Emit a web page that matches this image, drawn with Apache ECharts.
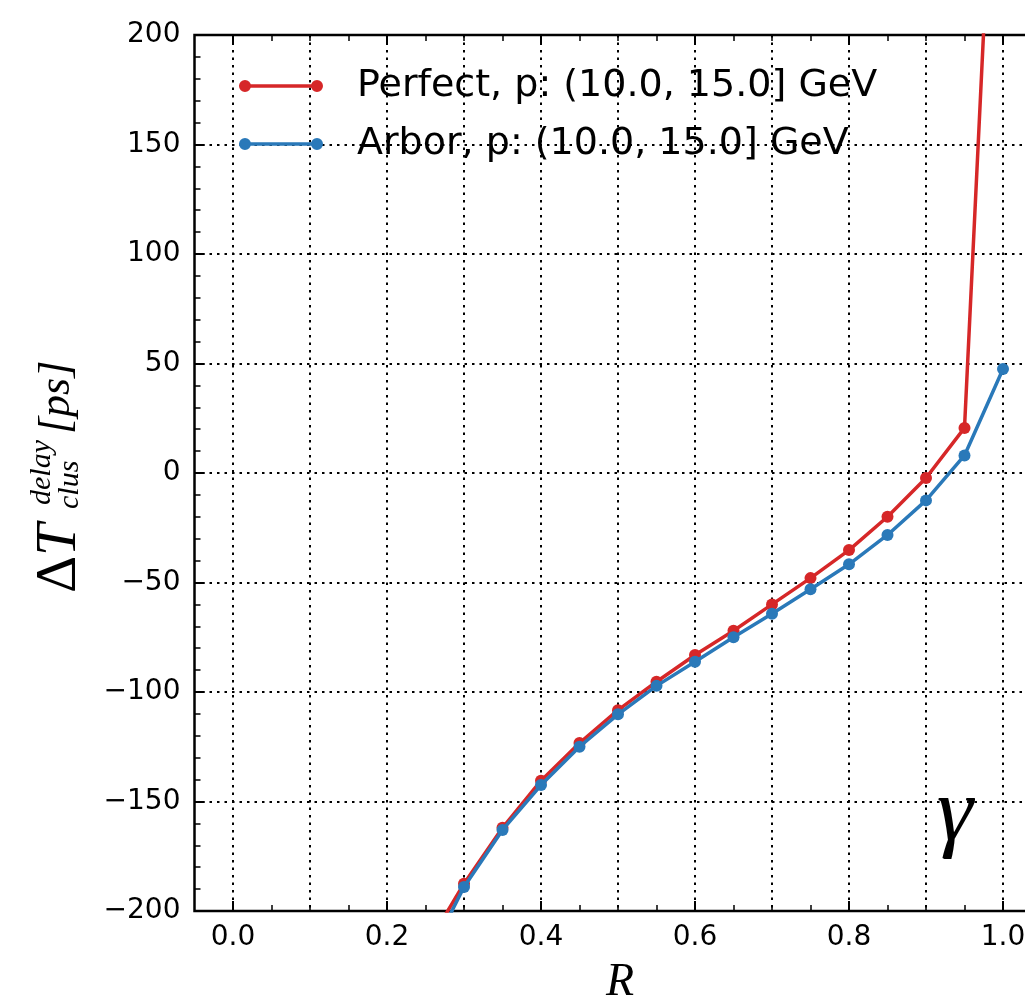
<!DOCTYPE html>
<html>
<head>
<meta charset="utf-8">
<script src="https://cdn.jsdelivr.net/npm/echarts@6/dist/echarts.min.js"></script>
<style>
html,body{margin:0;padding:0;background:#fff;}
#chart{width:1025px;height:1004px;}
</style>
</head>
<body>
<div id="chart"></div>
<script>
// ---- data ----
const R = [0.25, 0.30, 0.35, 0.40, 0.45, 0.50, 0.55, 0.60, 0.65, 0.70, 0.75, 0.80, 0.85, 0.90, 0.95, 1.00];
const perfect = [-217, -187.5, -162, -140.5, -123.3, -108.3, -95.3, -83.1, -72, -60, -48, -35.2, -20, -2.3, 20.6, 385];
const arbor = [-224, -189, -163, -142.5, -125, -110.2, -97.2, -86.2, -75, -64.3, -53.1, -41.7, -28.3, -12.5, 8, 47.5];
const seriesNames = ['Perfect, p: (10.0, 15.0] GeV', 'Arbor, p: (10.0, 15.0] GeV'];
const xMajorTicks = [0.0, 0.2, 0.4, 0.6, 0.8, 1.0];
const xMinorTicks = [0.05, 0.10, 0.15, 0.20, 0.25, 0.30, 0.35, 0.40, 0.45, 0.50, 0.55, 0.60, 0.65, 0.70, 0.75, 0.80, 0.85, 0.90, 0.95, 1.00];
const xGridValues = [0.0, 0.1, 0.2, 0.3, 0.4, 0.5, 0.6, 0.7, 0.8, 0.9, 1.0];

const RED = '#d62728';
const BLUE = '#2a79b9';
const X_MIN = -0.05, X_MAX = 1.05;
const Y_MIN = -200, Y_MAX = 200;

const chart = echarts.init(document.getElementById('chart'), null, {renderer: 'canvas'});

const dotted = {color: '#000', width: 2, type: [2.5, 5]};
const tickFont = {fontFamily: 'DejaVu Sans', fontSize: 28, color: '#000'};

function xAxisBase(pos) {
  return {
    type: 'value', gridIndex: 0, min: X_MIN, max: X_MAX, position: pos,
    axisLine: {show: false, onZero: false},
    splitLine: {show: false},
    axisLabel: {show: false},
    axisTick: {show: false}
  };
}
function tickAxis(pos, values, len, width, labels) {
  const a = xAxisBase(pos);
  a.axisTick = {show: true, inside: true, length: len, customValues: values,
                lineStyle: {color: '#000', width: width}};
  if (labels) {
    a.axisLabel = Object.assign({show: true, customValues: values, margin: 13,
      formatter: v => Number(v).toFixed(1)}, tickFont);
  }
  return a;
}
const gridAxis = xAxisBase('bottom');
gridAxis.axisTick = {show: false, customValues: xGridValues};
gridAxis.splitLine = {show: true, lineStyle: dotted};

const option = {
  animation: false,
  backgroundColor: '#fff',
  grid: {
    left: 194.5, top: 35, width: 847, height: 876,
    containLabel: false, outerBoundsMode: 'none',
    show: true, borderColor: '#000', borderWidth: 2.5, backgroundColor: 'transparent'
  },
  xAxis: [
    tickAxis('bottom', xMajorTicks, 10, 2, true),
    tickAxis('bottom', xMinorTicks, 6, 1.5, false),
    tickAxis('top', xMajorTicks, 10, 2, false),
    tickAxis('top', xMinorTicks, 6, 1.5, false),
    gridAxis
  ],
  yAxis: [{
    type: 'value', min: Y_MIN, max: Y_MAX, interval: 50, position: 'left',
    axisLine: {show: false, onZero: false},
    axisTick: {show: true, inside: true, length: 10, lineStyle: {color: '#000', width: 2}},
    minorTick: {show: true, splitNumber: 5, length: 6, lineStyle: {color: '#000', width: 1.5}},
    splitLine: {show: true, lineStyle: dotted},
    minorSplitLine: {show: false},
    axisLabel: Object.assign({margin: 14,
      formatter: v => (v < 0 ? '\u2212' + Math.abs(v) : String(v))}, tickFont)
  }],
  legend: {
    orient: 'vertical', left: 234, top: 52,
    itemWidth: 84, itemHeight: 12, itemGap: 0,
    icon: 'path://M0,6 A6,6 0 1,1 12,6 A6,6 0 1,1 0,6 Z M72,6 A6,6 0 1,1 84,6 A6,6 0 1,1 72,6 Z M6,4.2 L78,4.2 L78,7.8 L6,7.8 Z',
    textStyle: {fontFamily: 'DejaVu Sans', fontSize: 38, color: '#000', lineHeight: 58, padding: [0, 0, 0, 29]},
    data: seriesNames,
    selectedMode: false
  },
  series: [
    {
      name: seriesNames[0], type: 'line', xAxisIndex: 0, yAxisIndex: 0,
      data: R.map((r, i) => [r, perfect[i]]),
      symbol: 'circle', symbolSize: 12, clip: true,
      lineStyle: {color: RED, width: 3.5}, itemStyle: {color: RED}, z: 3
    },
    {
      name: seriesNames[1], type: 'line', xAxisIndex: 0, yAxisIndex: 0,
      data: R.map((r, i) => [r, arbor[i]]),
      symbol: 'circle', symbolSize: 12, clip: true,
      lineStyle: {color: BLUE, width: 3.5}, itemStyle: {color: BLUE}, z: 4
    }
  ],
  graphic: [
    {
      type: 'group', x: 0, y: 593, rotation: Math.PI / 2, silent: true,
      children: [
        {type: 'text', x: 0, y: 60, style: {text: '\u0394', fontFamily: 'Liberation Serif', fontSize: 58, fill: '#000', align: 'left', verticalAlign: 'middle'}},
        {type: 'text', x: 37, y: 60, style: {text: 'T', fontFamily: 'Liberation Serif', fontStyle: 'italic', fontSize: 58, fill: '#000', align: 'left', verticalAlign: 'middle'}},
        {type: 'text', x: 88, y: 42, style: {text: 'delay', fontFamily: 'Liberation Serif', fontStyle: 'italic', fontSize: 30, fill: '#000', align: 'left', verticalAlign: 'middle'}},
        {type: 'text', x: 84, y: 70, style: {text: 'clus', fontFamily: 'Liberation Serif', fontStyle: 'italic', fontSize: 30, fill: '#000', align: 'left', verticalAlign: 'middle'}},
        {type: 'text', x: 159, y: 57, style: {text: '[ps]', fontFamily: 'Liberation Serif', fontStyle: 'italic', fontSize: 44, fill: '#000', align: 'left', verticalAlign: 'middle'}}
      ]
    },
    {type: 'text', x: 620, y: 983, silent: true,
     style: {text: 'R', fontFamily: 'Liberation Serif', fontStyle: 'italic', fontSize: 46, fill: '#000', align: 'center', verticalAlign: 'middle'}},
    {type: 'text', x: 955, y: 816, silent: true,
     style: {text: '\u03b3', fontFamily: 'Liberation Serif', fontStyle: 'italic', fontSize: 92, fill: '#000', align: 'center', verticalAlign: 'middle'}}
  ]
};
chart.setOption(option);
</script>
</body>
</html>
